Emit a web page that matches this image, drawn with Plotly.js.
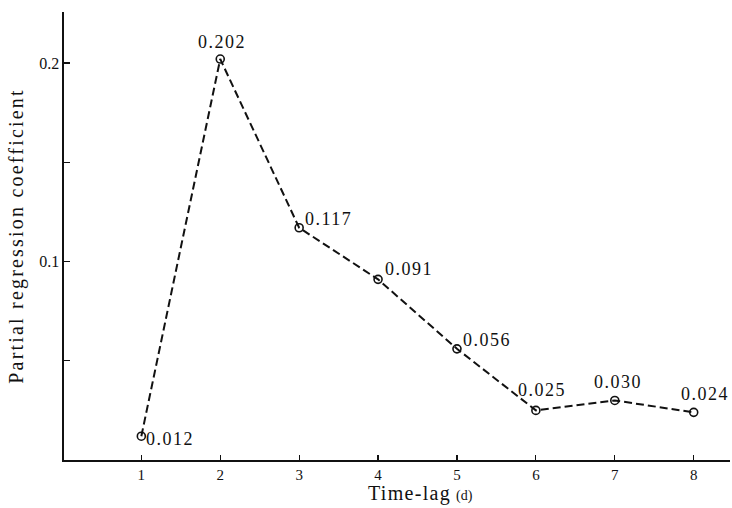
<!DOCTYPE html>
<html>
<head>
<meta charset="utf-8">
<script src="https://cdn.plot.ly/plotly-3.0.1.min.js"></script>
<style>html,body{margin:0;padding:0;background:#fff;}#chart{width:732px;height:508px;}</style>
</head>
<body>
<div id="chart"></div>
<script>
// Data
const timeLag = [1, 2, 3, 4, 5, 6, 7, 8];
const coefficients = [0.012, 0.202, 0.117, 0.091, 0.056, 0.025, 0.030, 0.024];
const valueLabels = ["0.012", "0.202", "0.117", "0.091", "0.056", "0.025", "0.030", "0.024"];
const xTickVals = [1, 2, 3, 4, 5, 6, 7, 8];
const xTickText = ["1", "2", "3", "4", "5", "6", "7", "8"];
const yTickVals = [0.05, 0.1, 0.15, 0.2];
const yTickText = ["", "0.1", "", "0.2"];

// Label placement (styling only)
const labelAnchor = ["left", "center", "left", "left", "left", "center", "center", "center"];
const labelXShift = [3, 2, 4, 5, 4, 6, 3, 11];
const labelYShift = [-3, 17, 9, 10, 9, 20, 18, 18];

const serif = "Liberation Serif, Times New Roman, serif";

const annotations = timeLag.map((x, i) => ({
  x: x, y: coefficients[i], xref: "x", yref: "y",
  text: "<span style='letter-spacing:1.5px'>" + valueLabels[i] + "</span>", showarrow: false,
  xanchor: labelAnchor[i], yanchor: "middle",
  xshift: labelXShift[i], yshift: labelYShift[i],
  font: {family: serif, size: 18, color: "#111"}
}));
annotations.push({
  xref: "paper", yref: "paper", x: 0.536, y: -0.074,
  xanchor: "center", yanchor: "middle", showarrow: false,
  text: "<span style='letter-spacing:1.3px'>Time-lag</span> <span style='font-size:14px'>(d)</span>",
  font: {family: serif, size: 20, color: "#111"}
});

const trace = {
  x: timeLag, y: coefficients, type: "scatter", mode: "lines+markers",
  line: {color: "#111", width: 2, dash: "8px,4px"},
  marker: {symbol: "circle-open", size: 8, color: "#111", line: {width: 1.6, color: "#111"}},
  cliponaxis: false, hoverinfo: "skip"
};

const layout = {
  width: 732, height: 508,
  margin: {l: 64, r: 2, t: 12, b: 48},
  paper_bgcolor: "#fff", plot_bgcolor: "#fff",
  showlegend: false,
  xaxis: {
    range: [0.02, 8.46], tickvals: xTickVals, ticktext: xTickText,
    ticks: "inside", ticklen: 5, tickwidth: 1.2, tickcolor: "#111",
    showline: true, linecolor: "#111", linewidth: 1.6,
    showgrid: false, zeroline: false,
    tickfont: {family: serif, size: 15, color: "#111"}
  },
  yaxis: {
    range: [0, 0.2257], tickvals: yTickVals, ticktext: yTickText,
    ticks: "inside", ticklen: 6, tickwidth: 1.2, tickcolor: "#111",
    showline: true, linecolor: "#111", linewidth: 1.6,
    showgrid: false, zeroline: false,
    tickfont: {family: serif, size: 16, color: "#111"},
    title: {text: "<span style='letter-spacing:2.2px'>Partial regression coefficient</span>", font: {family: serif, size: 20, color: "#111"}, standoff: 10}
  },
  annotations: annotations
};

Plotly.newPlot("chart", [trace], layout, {staticPlot: true, displayModeBar: false});
</script>
</body>
</html>
